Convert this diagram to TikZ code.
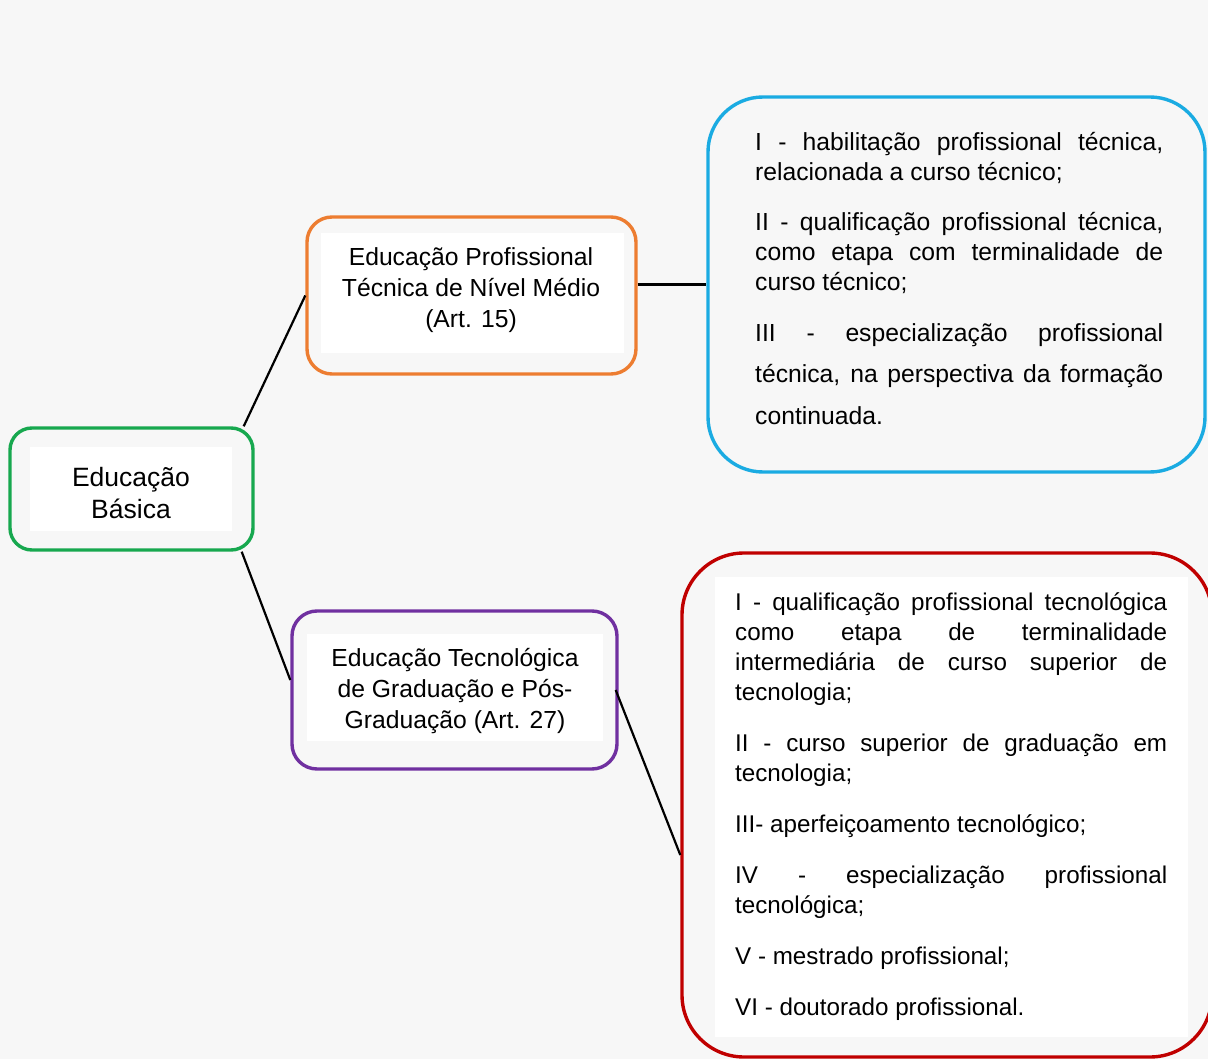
\documentclass[tikz,border=0pt]{standalone}
\usepackage{fontspec}
\setmainfont{Liberation Sans}
\definecolor{bgc}{HTML}{F7F7F7}
\definecolor{cgreen}{HTML}{17A84F}
\definecolor{corange}{HTML}{ED7D31}
\definecolor{cpurple}{HTML}{7030A0}
\definecolor{cblue}{HTML}{1AABE2}
\definecolor{cred}{HTML}{C00000}
\newcommand{\jb}[1]{\makebox[408pt][s]{#1}}
\newcommand{\jr}[1]{\makebox[432pt][s]{#1}}
\begin{document}
\begin{tikzpicture}[x=1pt,y=-1pt,
  frame/.style={draw, line width=3.4pt, inner sep=0pt},
  label/.style={align=center, font=\fontsize{24.7}{31}\selectfont, inner sep=0pt},
  list/.style={align=left, inner sep=0pt, anchor=north west},
  link/.style={draw=black, line width=2.2pt}]
\fill[bgc] (0,0) rectangle (1208,1059);
\useasboundingbox (0,0) rectangle (1208,1059);
% inner white panels
\fill[white] (30,447) rectangle (232,531);
\fill[white] (321,233) rectangle (624,353);
\fill[white] (307,634) rectangle (603,741);
\fill[white] (715,577) rectangle (1188,1037);
% boxes
\node[frame, draw=cgreen, rounded corners=22pt, minimum width=243pt, minimum height=122pt] (basica) at (131.5,489) {};
\node[frame, draw=corange, rounded corners=25pt, minimum width=329pt, minimum height=157pt] (prof) at (471.5,295.5) {};
\node[frame, draw=cpurple, rounded corners=25pt, minimum width=325pt, minimum height=158pt] (tec) at (454.5,690) {};
\node[frame, draw=cblue, rounded corners=55pt, minimum width=497pt, minimum height=375pt] (blue) at (956.5,284.5) {};
\node[frame, draw=cred, rounded corners=62pt, minimum width=530pt, minimum height=504pt] (red) at (947,805) {};
% texts
\node[label, font=\fontsize{26.5}{32}\selectfont] (tbasica) at (131,493) {Educação\\Básica};
\node[label] (tprof) at (471,290.5) {Educação Profissional\\Técnica de Nível Médio\\(Art. 15)};
\node[label] (ttec) at (455,691.5) {Educação Tecnológica\\de Graduação e Pós-\\Graduação (Art. 27)};
\node[list, font=\fontsize{24.7}{30}\selectfont] (tblue) at (755,129) {%
\strut\jb{I - habilitação profissional técnica,}\\
relacionada a curso técnico;\\[20pt]
\jb{II - qualificação profissional técnica,}\\
\jb{como etapa com terminalidade de}\\
curso técnico;\\[21pt]
\jb{III - especialização profissional}\\[11.5pt]
\jb{técnica, na perspectiva da formação}\\[11.5pt]
continuada.};
\node[list, font=\fontsize{24.2}{30}\selectfont] (tred) at (735,589) {%
\strut\jr{I - qualificação profissional tecnológica}\\
\jr{como etapa de terminalidade}\\
\jr{intermediária de curso superior de}\\
tecnologia;\\[21pt]
\jr{II - curso superior de graduação em}\\
tecnologia;\\[21pt]
III- aperfeiçoamento tecnológico;\\[21pt]
\jr{IV - especialização profissional}\\
tecnológica;\\[21pt]
V - mestrado profissional;\\[21pt]
VI - doutorado profissional.};
% connectors
\draw[link] ([xshift=-11pt]basica.north east) -- (prof.west);
\draw[link] ([xshift=-13pt]basica.south east) -- ([yshift=10pt]tec.west);
\draw[link] (prof.east |- blue.west) -- (blue.west);
\draw[link] ([xshift=-3pt]tec.east) -- ([yshift=-50pt]red.west);
\end{tikzpicture}
\end{document}
